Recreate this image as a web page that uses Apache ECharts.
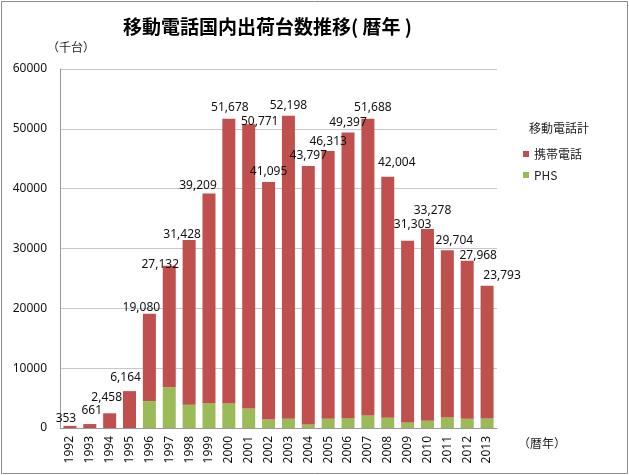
<!DOCTYPE html>
<html><head><meta charset="utf-8">
<script src="https://cdn.jsdelivr.net/npm/echarts@6/dist/echarts.min.js"></script>
<style>html,body{margin:0;padding:0;background:#fff}#c{width:629px;height:475px}</style>
</head><body><div id="c"></div>
<script>
const years = ['1992','1993','1994','1995','1996','1997','1998','1999','2000','2001','2002','2003','2004','2005','2006','2007','2008','2009','2010','2011','2012','2013'];
const totals = [353,661,2458,6164,19080,27132,31428,39209,51678,50771,41095,52198,43797,46313,49397,51688,42004,31303,33278,29704,27968,23793];
const phs = [0,0,0,0,4500,6800,3900,4150,4100,3270,1400,1550,600,1550,1650,2100,1700,930,1200,1770,1550,1600];
const cellular = [353,661,2458,6164,14580,20332,27528,35059,47578,47501,39695,50648,43197,44763,47747,49588,40304,30373,32078,27934,26418,22193];
const yTicks = [0,10000,20000,30000,40000,50000,60000];
// label nudges (style only)
const labelNudge = [[-4,4],[2,-2],[-3,-5],[-4,-3],[-8,5],[-9,10],[-7,6],[-11,3],[1,0],[11,8],[0,0],[0,1],[0,1],[0,2],[0,1],[5,0],[9,-3],[5,-5],[5,-7],[7,1],[11,6],[15,1]];

const chart = echarts.init(document.getElementById('c'), null, {renderer:'canvas'});
const fmt = v => v.toLocaleString('en-US');
const jp = '"Noto Sans CJK JP", "Noto Sans", sans-serif';
chart.setOption({
  animation:false,
  backgroundColor:'#fff',
  title:{text:'移動電話国内出荷台数推移( 暦年 )', left:118, top:12,
    textStyle:{fontSize:19, fontWeight:'bold', color:'#000', fontFamily:jp}},
  grid:{left:60, right:132, top:69, bottom:47},
  legend:{orient:'vertical', left:518, top:143, itemWidth:6, itemHeight:6, itemGap:9, icon:'rect',
    data:['携帯電話','PHS'], textStyle:{fontSize:12, color:'#222', fontFamily:jp}},
  xAxis:{type:'category', data:years,
    axisLine:{lineStyle:{color:'#999'}}, axisTick:{show:false},
    axisLabel:{rotate:90, margin:8, fontSize:12, color:'#111', fontFamily:'"Noto Sans", sans-serif', interval:0}},
  yAxis:{type:'value', min:yTicks[0], max:yTicks[yTicks.length-1], interval:10000,
    axisLine:{show:true, lineStyle:{color:'#999'}}, axisTick:{show:false},
    splitLine:{lineStyle:{color:'#c8c8c8'}},
    axisLabel:{margin:13, fontSize:12, color:'#111', fontFamily:'"Noto Sans", sans-serif', formatter:v=>String(v)}},
  series:[
    {name:'PHS', type:'bar', stack:'t', barWidth:13, data:phs, itemStyle:{color:'#9BBB59'}},
    {name:'携帯電話', type:'bar', stack:'t', barWidth:13, itemStyle:{color:'#C0504D'},
      data: cellular.map((v,i)=>({value:v, label:{offset:labelNudge[i]}})),
      label:{show:true, position:'top', distance:5, fontSize:12, color:'#111',
        fontFamily:'"Noto Sans", sans-serif', formatter:p=>fmt(totals[p.dataIndex])}}
  ],
  graphic:[
    {type:'rect', shape:{x:1.5,y:1.5,width:626,height:472}, style:{fill:null, stroke:'#8c8c8c', lineWidth:1}, silent:true},
    {type:'text', left:47, top:41, style:{text:'（千台）', fontSize:12, fill:'#222', fontFamily:jp}},
    {type:'text', left:529, top:122, style:{text:'移動電話計', fontSize:12, fill:'#222', fontFamily:jp}},
    {type:'text', left:518, top:437, style:{text:'（暦年）', fontSize:12, fill:'#222', fontFamily:jp}}
  ]
});
</script></body></html>
